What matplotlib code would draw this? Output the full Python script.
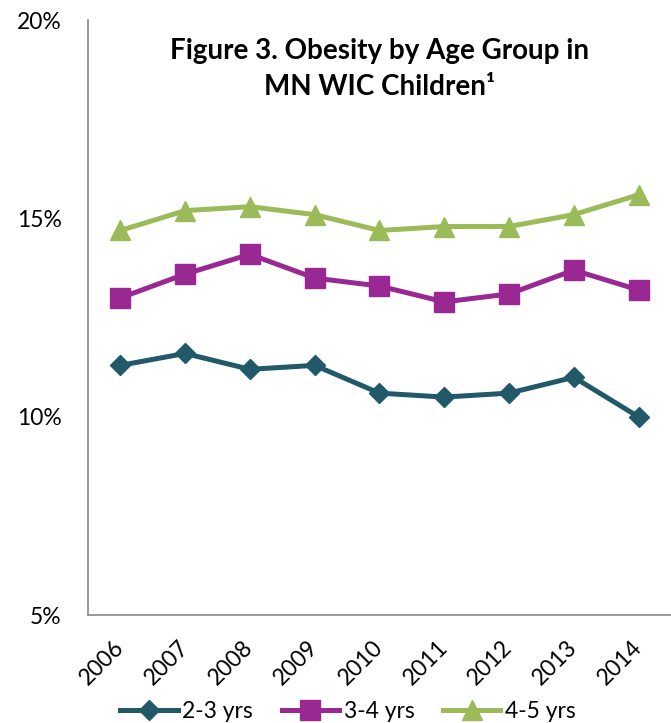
import matplotlib
matplotlib.use("Agg")
import matplotlib.pyplot as plt
import numpy as np

years = ["2006", "2007", "2008", "2009", "2010", "2011", "2012", "2013", "2014"]
age_2_3 = [11.3, 11.6, 11.2, 11.3, 10.6, 10.5, 10.6, 11.0, 10.0]
age_3_4 = [13.0, 13.6, 14.1, 13.5, 13.3, 12.9, 13.1, 13.7, 13.2]
age_4_5 = [14.7, 15.2, 15.3, 15.1, 14.7, 14.8, 14.8, 15.1, 15.6]

plt.rcParams['font.family'] = ['Lato', 'DejaVu Sans']

fig = plt.figure(figsize=(6.71, 7.23), dpi=100)
ax = fig.add_axes([0.131, 0.149, 0.869, 0.823])

x = np.arange(len(years))
ax.plot(x, age_2_3, color='#215968', lw=3.6, marker='D', ms=10.5, label='2-3 yrs')
ax.plot(x, age_3_4, color='#9A2893', lw=3.6, marker='s', ms=14, label='3-4 yrs')
ax.plot(x, age_4_5, color='#9BBB59', lw=3.6, marker='^', ms=14, label='4-5 yrs')

ax.set_xlim(-0.5, 8.5)
ax.set_ylim(5, 20)
ax.set_yticks([5, 10, 15, 20])
ax.set_yticklabels(["5%", "10%", "15%", "20%"], fontsize=16.5)
ax.set_xticks(x)
ax.set_xticklabels(years, rotation=45, ha='right', va='center',
                   rotation_mode='anchor', fontsize=16.5)
ax.tick_params(axis='y', length=0, pad=19)
ax.tick_params(axis='x', length=0, pad=21)

for s in ['top', 'right']:
    ax.spines[s].set_visible(False)
for s in ['left', 'bottom']:
    ax.spines[s].set_color('#888888')
    ax.spines[s].set_linewidth(1.2)

ax.text(0.5, 0.97, "Figure 3. Obesity by Age Group in\nMN WIC Children\u00b9",
        transform=ax.transAxes, ha='center', va='top', fontsize=20,
        fontweight='bold', linespacing=1.45)

fig.legend(loc='center', bbox_to_anchor=(348 / 671, 11 / 723), ncol=3, frameon=False,
           fontsize=16.5, handlelength=2.5, columnspacing=1.25, handletextpad=0.2)

fig.savefig("out.png", dpi=100)
